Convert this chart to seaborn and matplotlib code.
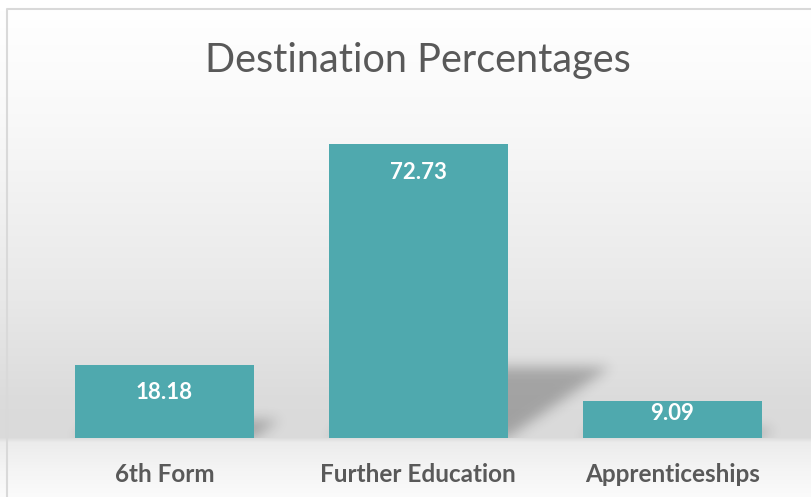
import numpy as np
import pandas as pd
import matplotlib
matplotlib.use("Agg")
import matplotlib.pyplot as plt
import seaborn as sns

# Destination Percentages chart
categories = ["6th Form", "Further Education", "Apprenticeships"]
percentages = [18.18, 72.73, 9.09]
value_labels = ["18.18", "72.73", "9.09"]

df = pd.DataFrame({"Destination": categories, "Percent": percentages})

sns.set_style("white")
plt.rcParams["font.family"] = ["Lato", "DejaVu Sans"]

W, H = 812, 497
fig = plt.figure(figsize=(W / 100, H / 100), dpi=100)

# background gradient for the whole chart area
bg = fig.add_axes([0, 0, 1, 1], zorder=-10)
rows = np.arange(H)
stops_y = [0, 10, 120, 300, 400, 437, 442, 470, 497]
stops_v = [1.0, 1.0, 0.975, 0.91, 0.86, 0.855, 0.925, 0.96, 0.985]
col = np.interp(rows, stops_y, stops_v)
img = np.repeat(col[:, None], W, axis=1)
bg.imshow(np.dstack([img, img, img]), aspect="auto", extent=[0, W, H, 0])
bg.plot([7, 7, W], [H, 8.5, 8.5], color="#d9d9d9", lw=1.5)
bg.set_xlim(0, W)
bg.set_ylim(H, 0)
bg.axis("off")

ymax = 80
ax = fig.add_axes([37.5 / W, 59 / H, (799 - 37.5) / W, 323 / H])
ax.patch.set_alpha(0)

sns.barplot(data=df, x="Destination", y="Percent", color="#4FA9AE",
            saturation=1, width=0.705, linewidth=0, ax=ax, zorder=3)
ax.set_xlim(-0.5, 2.5)
ax.set_ylim(0, ymax)

# soft shadows cast to the right of each bar
px_per_x = (799 - 37.5) / 3
px_per_y = 323 / ymax
gx = np.linspace(-0.5, 2.5, 762)
gy = np.linspace(0, ymax, 323)
XX, YY = np.meshgrid(gx, gy)
mask = np.zeros_like(XX)
for i, v in enumerate(percentages):
    sh = 0.24 * v
    shift = 0.35 * v * px_per_y / px_per_x
    frac = np.clip(YY / sh, 0, 1)
    left = i - 0.3525 + shift * frac
    right = i + 0.3525 + shift * frac
    mask[(YY <= sh) & (XX >= left) & (XX <= right)] = 1.0
k = np.exp(-0.5 * (np.arange(-18, 19) / 6.5) ** 2)
k /= k.sum()
mask = np.apply_along_axis(lambda r: np.convolve(r, k, mode="same"), 1, mask)
mask = np.apply_along_axis(lambda c: np.convolve(c, k, mode="same"), 0, mask)
shadow = np.zeros(mask.shape + (4,))
shadow[..., 3] = mask * 0.26
ax.imshow(shadow, extent=[-0.5, 2.5, 0, ymax], origin="lower", aspect="auto", zorder=2)
ax.set_xlim(-0.5, 2.5)
ax.set_ylim(0, ymax)

for i, (v, lab) in enumerate(zip(percentages, value_labels)):
    off = min(28, v * px_per_y - 25)
    ax.annotate(lab, (i, v), xytext=(0, -off * 0.72), textcoords="offset points",
                ha="center", va="center", color="white", fontsize=16,
                fontweight="bold", zorder=4)

ax.set_xlabel("")
ax.set_ylabel("")
ax.set_yticks([])
ax.tick_params(axis="x", length=0, pad=18, labelsize=17.5, labelcolor="#595959")
for t in ax.get_xticklabels():
    t.set_fontweight("bold")
sns.despine(ax=ax, left=True, bottom=True)

fig.text(418 / W, 1 - 72 / H, "Destination Percentages", ha="center", va="baseline",
         fontsize=28.5, color="#595959")

fig.savefig("out.png", dpi=100)
